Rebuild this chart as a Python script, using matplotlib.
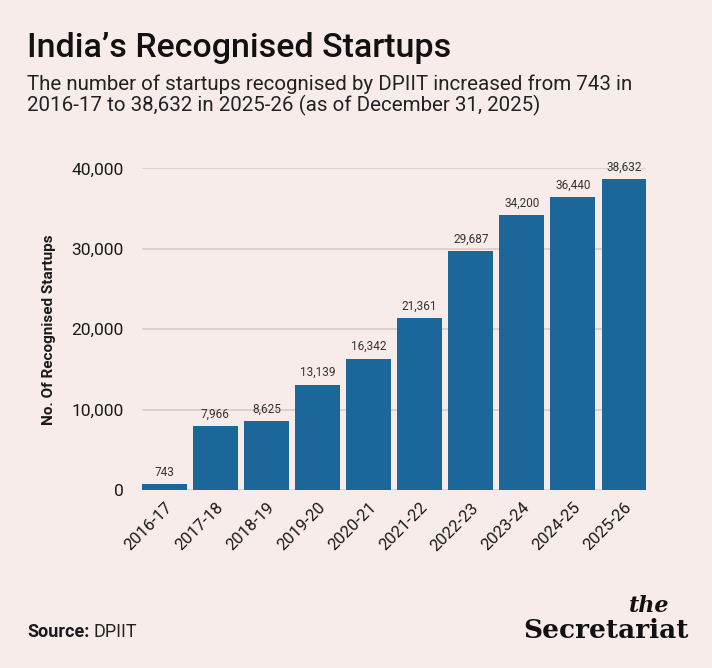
import matplotlib
matplotlib.use("Agg")
import matplotlib.pyplot as plt
from matplotlib.ticker import FuncFormatter

# ---------------------------
# Data (DPIIT recognised startups per financial year)
# ---------------------------
years = ["2016-17", "2017-18", "2018-19", "2019-20", "2020-21",
         "2021-22", "2022-23", "2023-24", "2024-25", "2025-26"]
startups = [743, 7966, 8625, 13139, 16342, 21361, 29687, 34200, 36440, 38632]
y_ticks = [0, 10000, 20000, 30000, 40000]

bg = "#f8eceb"
bar_color = "#1c6799"
text_color = "#1a1a1a"

plt.rcParams["font.family"] = ["Roboto", "DejaVu Sans"]

fig = plt.figure(figsize=(7.12, 6.68), dpi=100, facecolor=bg)
ax = fig.add_axes([0.199, 0.266, 0.709, 0.482], facecolor=bg)

x = range(len(years))
bars = ax.bar(x, startups, width=0.88, color=bar_color, zorder=3)

for rect, val in zip(bars, startups):
    ax.annotate(f"{val:,}", (rect.get_x() + rect.get_width() / 2, val),
                xytext=(0, 4), textcoords="offset points",
                ha="center", va="bottom", fontsize=8.5, color="#333333",
                annotation_clip=False)

ax.set_xlim(-0.44, len(years) - 0.56)
ax.set_ylim(0, 40000)
ax.set_yticks(y_ticks)
ax.yaxis.set_major_formatter(FuncFormatter(lambda v, p: f"{int(v):,}"))
ax.set_xticks(list(x))
ax.set_xticklabels(years, rotation=45, ha="right", rotation_mode="anchor")

ax.grid(axis="y", color="#d6cccb", linewidth=1.2, zorder=0)
for s in ax.spines.values():
    s.set_visible(False)
ax.tick_params(axis="both", length=0, colors=text_color)
ax.tick_params(axis="y", pad=13, labelsize=12.5)
ax.tick_params(axis="x", pad=7, labelsize=12)

ax.set_ylabel("No. Of Recognised Startups", fontsize=11, fontweight="bold",
              color=text_color, labelpad=11)

# ---------------------------
# Titles and footer
# ---------------------------
fig.text(0.038, 0.914, "India\u2019s Recognised Startups", fontsize=24.5,
         fontweight="medium", color="#111111", va="baseline")
fig.text(0.038, 0.888,
         "The number of startups recognised by DPIIT increased from 743 in\n"
         "2016-17 to 38,632 in 2025-26 (as of December 31, 2025)",
         fontsize=14.8, color="#222222", va="top", linespacing=1.05)

fig.text(0.038, 0.047, "Source:", fontsize=13, fontweight="bold",
         color=text_color, va="baseline")
fig.text(0.131, 0.047, "DPIIT", fontsize=13, color="#222222",
         va="baseline")

fig.text(0.94, 0.084, "the", fontsize=16, family="DejaVu Serif",
         style="italic", fontweight="bold", ha="right", va="baseline",
         color="#111111")
fig.text(0.967, 0.045, "Secretariat", fontsize=19, family="DejaVu Serif",
         fontweight="bold", ha="right", va="baseline", color="#111111")

fig.savefig("out.png", dpi=100, facecolor=bg)
